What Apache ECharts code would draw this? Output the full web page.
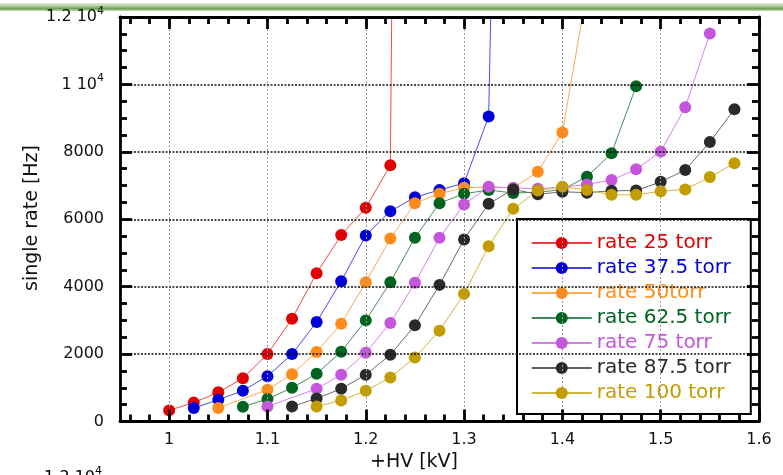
<!DOCTYPE html>
<html><head><meta charset="utf-8">
<script src="https://cdn.jsdelivr.net/npm/echarts@6/dist/echarts.min.js"></script>
<style>html,body{margin:0;padding:0;background:#fff}#c{width:783px;height:475px}</style>
</head><body><div id="c"></div>
<script>
const FONT = 'DejaVu Sans';
const seriesNames = ['rate 25 torr','rate 37.5 torr','rate 50torr','rate 62.5 torr','rate 75 torr','rate 87.5 torr','rate 100 torr'];
const markerColors = ['#e00000','#0000d8','#ff8c1a','#006420','#c455dc','#2a2a2a','#c29c00'];
const lineColors = ['#ee4a4a','#4a4aee','#ffa850','#4f8a5c','#d680ee','#6a6a6a','#d4b440'];

const hv25 = [1.0,1.025,1.05,1.075,1.1,1.125,1.15,1.175,1.2,1.225,1.25];
const rate25 = [330,560,865,1280,2000,3050,4400,5530,6340,7600,90000];
const hv375 = [1.025,1.05,1.075,1.1,1.125,1.15,1.175,1.2,1.225,1.25,1.275,1.3,1.325,1.35];
const rate375 = [400,645,915,1345,2000,2950,4160,5520,6240,6650,6870,7070,9050,45000];
const hv50 = [1.05,1.1,1.125,1.15,1.175,1.2,1.225,1.25,1.275,1.3,1.325,1.35,1.375,1.4,1.425];
const rate50 = [400,942,1400,2062,2903,4131,5429,6478,6758,6936,6950,6930,7410,8571,12800];
const hv625 = [1.075,1.1,1.125,1.15,1.175,1.2,1.225,1.25,1.275,1.3,1.325,1.35,1.375,1.4,1.425,1.45,1.475];
const rate625 = [440,666,1000,1415,2070,3000,4131,5450,6478,6758,6866,6780,6800,6880,7260,7955,9947];
const hv75 = [1.1,1.15,1.175,1.2,1.225,1.25,1.275,1.3,1.325,1.35,1.375,1.4,1.425,1.45,1.475,1.5,1.525,1.55];
const rate75 = [446,972,1388,2042,2924,4113,5450,6440,6966,6930,6906,6950,7034,7163,7480,8006,9322,11512];
const hv875 = [1.125,1.15,1.175,1.2,1.225,1.25,1.275,1.3,1.325,1.35,1.375,1.4,1.425,1.45,1.475,1.5,1.525,1.55,1.575];
const rate875 = [446,684,972,1388,1982,2853,4053,5400,6460,6886,6738,6817,6788,6845,6850,7110,7460,8292,9264];
const hv100 = [1.15,1.175,1.2,1.225,1.25,1.275,1.3,1.325,1.35,1.375,1.4,1.425,1.45,1.475,1.5,1.525,1.55,1.575];
const rate100 = [446,624,912,1308,1902,2695,3786,5200,6312,6850,6966,6866,6725,6725,6830,6886,7251,7659];

const allHV = [hv25,hv375,hv50,hv625,hv75,hv875,hv100];
const allRate = [rate25,rate375,rate50,rate625,rate75,rate875,rate100];

const xTickLabels = [1.0,1.1,1.2,1.3,1.4,1.5,1.6];
const xMinorTicks = [];
for (let k = 48; k <= 80; k++) { if (k % 5 !== 0) xMinorTicks.push(+(k*0.02).toFixed(2)); }
const yTickLabels = ['0','2000','4000','6000','8000','1 10|4','1.2 10|4'];

const X_MIN = 0.95, X_MAX = 1.6, Y_MIN = 0, Y_MAX = 12000, Y_STEP = 2000;

function yFmt(v) {
  const t = yTickLabels[Math.round(v / Y_STEP)];
  if (t === undefined) return '';
  const p = t.split('|');
  return p.length > 1 ? '{a|' + p[0] + '}{s|' + p[1] + '}' : '{a|' + p[0] + '}';
}
const richY = {
  a: {fontSize: 16, fontFamily: FONT, color: '#111'},
  s: {fontSize: 11, fontFamily: FONT, color: '#111', verticalAlign: 'top', lineHeight: 23}
};

const axisLineStyle = {color: '#000', width: 2.8};
const tickStyle = {color: '#000', width: 2.8};

function xAxisDef(pos, major, showLabel) {
  return {
    type: 'value', min: X_MIN, max: X_MAX, position: pos, gridIndex: 0,
    axisLine: {show: major, onZero: false, lineStyle: axisLineStyle},
    axisTick: {show: true, inside: true, length: major ? 12 : 7, lineStyle: tickStyle,
               customValues: major ? xTickLabels : xMinorTicks},
    axisLabel: showLabel ? {show: true, customValues: xTickLabels, fontSize: 16, fontFamily: FONT,
               color: '#111', margin: 10, formatter: v => (Math.abs(v - 1) < 1e-9 ? '1' : String(+v.toFixed(1)))}
               : {show: false},
    splitLine: (pos === 'bottom' && major) ? {show: true, lineStyle: {color: '#9a9a9a', type: [2, 2], width: 1}} : {show: false},
    z: 5
  };
}
function yAxisDef(pos, showLabel) {
  return {
    type: 'value', min: Y_MIN, max: Y_MAX, interval: Y_STEP, position: pos, gridIndex: 0,
    axisLine: {show: true, onZero: false, lineStyle: axisLineStyle},
    axisTick: {show: true, inside: true, length: 12, lineStyle: tickStyle},
    minorTick: {show: true, splitNumber: 4, length: 7, lineStyle: tickStyle},
    axisLabel: showLabel ? {show: true, margin: 16, formatter: yFmt, rich: richY} : {show: false},
    splitLine: pos === 'left' ? {show: true, lineStyle: {color: '#111', type: [2, 1.5], width: 1.5}} : {show: false},
    z: 5
  };
}

const series = seriesNames.map((name, i) => ({
  name: name, type: 'line', xAxisIndex: 0, yAxisIndex: 0,
  data: allHV[i].map((x, j) => [x, allRate[i][j]]),
  symbol: 'circle', symbolSize: 12, showSymbol: true,
  itemStyle: {color: markerColors[i], borderWidth: 0},
  lineStyle: {color: lineColors[i], width: 1},
  clip: true, animation: false
}));

const chart = echarts.init(document.getElementById('c'), null, {renderer: 'canvas'});
chart.setOption({
  animation: false,
  backgroundColor: '#fff',
  grid: {left: 120, right: 24, top: 17, bottom: 53.5, containLabel: false},
  xAxis: [xAxisDef('bottom', true, true), xAxisDef('bottom', false, false),
          xAxisDef('top', true, false), xAxisDef('top', false, false)],
  yAxis: [yAxisDef('left', true), yAxisDef('right', false)],
  legend: {
    orient: 'vertical', left: 517, top: 219,
    backgroundColor: '#fff', borderColor: '#000', borderWidth: 2,
    padding: [14, 20, 11, 14], itemWidth: 60, itemHeight: 15, itemGap: 5,
    itemStyle: {borderWidth: 0},
    textStyle: {fontSize: 20, fontFamily: FONT, lineHeight: 20},
    data: seriesNames.map((n, i) => ({name: n,
      itemStyle: {color: markerColors[i], borderWidth: 0},
      lineStyle: {color: markerColors[i], width: 1.5},
      textStyle: {color: markerColors[i]}}))
  },
  graphic: [
    {type: 'rect', left: 0, top: 3, shape: {width: 783, height: 8}, z: -10, zlevel: 0,
     style: {fill: new echarts.graphic.LinearGradient(0, 0, 0, 1, [
       {offset: 0, color: '#e4eedc'}, {offset: 0.4, color: '#a9c993'},
       {offset: 0.7, color: '#6f9f52'}, {offset: 1, color: '#c9dcbc'}])}},
    {type: 'text', x: 414, y: 462, z: 10,
     style: {text: '+HV [kV]', font: '19px "DejaVu Sans"', fill: '#111', align: 'center', verticalAlign: 'middle'}},
    {type: 'text', x: 32, y: 218, rotation: Math.PI / 2, z: 10,
     style: {text: 'single rate [Hz]', font: '19px "DejaVu Sans"', fill: '#111', align: 'center', verticalAlign: 'middle'}},
    {type: 'text', x: 102, y: 466, z: 10,
     style: {text: '{a|1.2 10}{s|4}', rich: richY, align: 'right', verticalAlign: 'top'}}
  ],
  series: series
});
</script></body></html>
